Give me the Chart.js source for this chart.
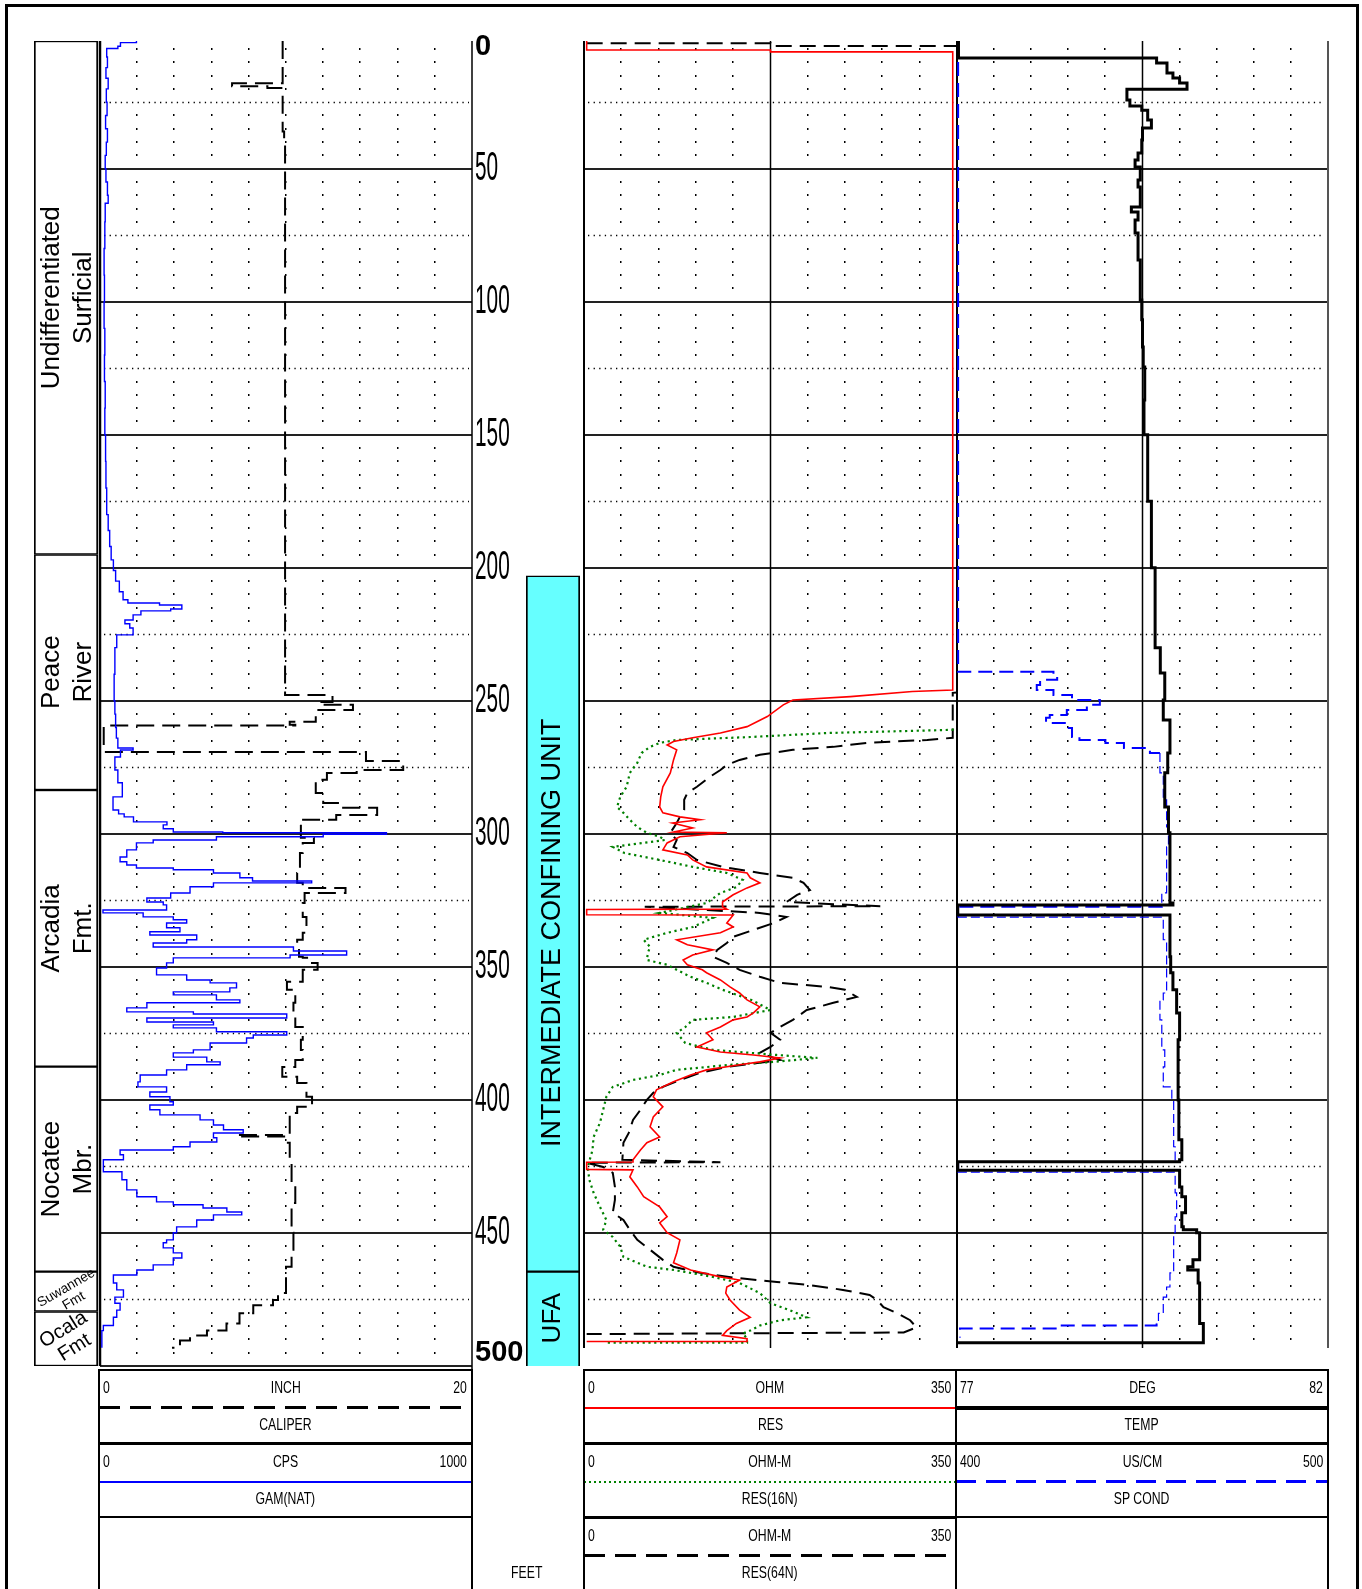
<!DOCTYPE html>
<html>
<head>
<meta charset="utf-8">
<title>Well log</title>
<script src="https://cdn.jsdelivr.net/npm/chart.js@4.4.1/dist/chart.umd.min.js"></script>
<style>
  html, body { margin: 0; padding: 0; background: #fff; }
  body { position: relative; width: 1362px; height: 1589px; overflow: hidden; font-family: "Liberation Sans", Arial, sans-serif; }
  canvas { position: absolute; }
  .frame { position: absolute; left: 5px; top: 4px; width: 1348px; height: 1620px; border: 3px solid #000; border-bottom: none; }
</style>
</head>
<body>
<div class="frame"></div>
<canvas id="litho" width="64" height="1345" style="left:34px;top:31px"></canvas>
<canvas id="trackGam" width="440" height="1345" style="left:90px;top:31px"></canvas>
<canvas id="hydro" width="54" height="1345" style="left:526px;top:31px"></canvas>
<canvas id="trackRes" width="393" height="1345" style="left:574px;top:31px"></canvas>
<canvas id="trackTemp" width="391" height="1345" style="left:947px;top:31px"></canvas>

<script>
// ---- depth frame (feet) ----
const DEPTH_MIN = 2;
const DEPTH_MAX = 500;
const depthTicks = [0, 50, 100, 150, 200, 250, 300, 350, 400, 450, 500];

// ---- formations ----
const formationNames = ['Undifferentiated\nSurficial', 'Peace\nRiver', 'Arcadia\nFmt.', 'Nocatee\nMbr.', 'Suwannee\nFmt', 'Ocala\nFmt'];
const formationTop = [2, 195, 283.5, 387.5, 464.5, 479.5];
const formationBase = [195, 283.5, 387.5, 464.5, 479.5, 500];

// ---- hydrogeologic units ----
const unitNames = ['INTERMEDIATE CONFINING UNIT', 'UFA'];
const unitTop = [203, 464.5];
const unitBase = [464.5, 501];

// ---- curves: [depth ft, value] ----
const gammaCps = [[2,98],[2.6,55],[4,48],[4.8,18],[8,20],[12,16],[16,22],[20,17],[25,19],[30,15],[35,20],[40,17],[45,14],[50,16],[55,20],[60,22],[63,14],[70,13],[80,11],[90,12],[100,11],[110,13],[120,12],[130,14],[140,13],[150,15],[160,16],[170,18],[180,22],[186,26],[192,30],[197,36],[201,42],[205,52],[209,62],[212,75],[213.2,160],[214,220],[215.5,190],[216.2,110],[217.7,89],[219.6,67],[221,80],[222.6,89],[225.2,45],[230,40],[240,38],[250,40],[255,42],[260,44],[264,48],[267.7,89],[268.5,55],[271.1,40],[276,48],[280.8,60],[286.1,35],[291,50],[292.5,65],[293.6,90],[295.5,180],[296.6,170],[298.1,197],[299.3,330],[299.6,770],[300.2,600],[301.1,313],[302.3,143],[303.4,98],[306,72],[308.7,54],[310.5,72],[311.7,98],[312.8,197],[313.5,305],[314.7,376],[316.5,410],[317.7,569],[318.4,305],[319.9,242],[322.2,190],[324.1,126],[325.6,170],[326.7,179],[328.6,8],[329.7,116],[331.2,197],[332.3,233],[333.5,179],[335.3,215],[336.8,134],[338,260],[339.8,233],[341,143],[342.5,520],[344,663],[345.5,511],[346.6,197],[348.5,179],[350.4,152],[353,233],[354.9,296],[356,367],[357.9,349],[359.4,197],[360.5,313],[362.4,376],[363.5,126],[365.4,72],[366.9,251],[367.7,502],[369.2,126],[370.7,305],[371.8,197],[372.9,313],[374.4,502],[375.6,412],[376.7,394],[378.6,296],[381.2,251],[382.3,197],[383.9,287],[385.7,323],[386.8,233],[388.7,179],[390.6,108],[393.2,102],[395.1,179],[397,134],[398.8,188],[400.7,197],[401.9,134],[403.7,161],[405.6,269],[407.5,305],[409.4,332],[411.2,385],[412.4,305],[414.2,314],[415.8,242],[417.6,197],[418.8,54],[420.6,63],[422.5,9],[425.2,9],[427,59],[430,72],[433.8,99],[436.4,152],[438.3,197],[439.4,277],[440.6,341],[442.1,381],[443.2,305],[445.1,260],[447.7,206],[449.9,197],[452.6,179],[453.7,170],[455.6,197],[457.5,220],[459.4,197],[462,143],[463.9,99],[465.8,36],[468.8,45],[471.4,63],[474.1,40],[476.4,54],[479,45],[481.7,36],[484.8,9],[486.7,5],[493.1,5]];

const caliperInch = [[2,9.82],[17.8,9.82],[17.9,7.1],[18.9,7.1],[19,9.0],[19.7,9.82],[36,9.9],[39,9.95],[246,9.95],[247.8,12.5],[250.4,11.8],[251.5,13.6],[253.4,11.6],[257.9,10.2],[259,10.5],[259.3,0.2],[268.4,0.2],[269.2,14.3],[272.6,16.3],[276,13.8],[277.1,12.2],[279.7,11.6],[284.6,12.0],[288.4,12.9],[290.2,14.9],[292.9,12.7],[294.7,10.75],[295.9,10.8],[301.5,11.5],[303.4,10.9],[307.2,10.75],[313.5,10.7],[314.7,10.6],[318.4,10.9],[320.3,13.2],[322.2,11.0],[326,10.9],[331.2,11.1],[337.2,10.9],[339.8,10.6],[342.9,10.7],[346.2,10.9],[346.6,11.3],[348.5,11.7],[351.1,10.9],[355.6,10.05],[358.6,10.5],[363.5,10.4],[368,10.5],[372.6,10.9],[377.4,10.8],[381.2,10.9],[385,10.5],[387.6,9.8],[391.3,10.6],[393.6,11.1],[398.8,11.4],[402.6,10.6],[404.9,10.2],[413.1,10.2],[413.2,7.35],[413.6,7.35],[413.7,10.1],[416.1,10.2],[423.6,10.3],[431.2,10.5],[438.7,10.3],[449.9,10.4],[456.3,10.3],[462.7,10.0],[472.6,9.57],[475.2,9.3],[477.2,8.24],[480.2,7.5],[484,6.8],[486.7,5.75],[488.5,4.84],[490.4,4.3],[493.1,3.87]];

const resOhm = [[2,2.5],[5.4,2.5],[5.4,175],[6.1,175],[6.1,346],[245.9,346],[246.5,308],[248.4,250],[249.7,196],[251.5,187],[255.9,172],[259.7,153],[262.1,128],[263.9,102],[265.3,84],[266.6,78],[268.4,87],[272.2,84],[277.1,81],[282.3,74],[286.1,72],[289.9,71],[292.1,74],[293.6,90],[294.7,109],[295.9,83],[297.8,102],[299.3,84],[299.6,134],[301.1,90],[303.4,78],[306,74],[307.9,97],[309.8,102],[312.4,115],[314.7,153],[316.5,156],[318.4,165],[320.3,153],[322.9,140],[325.6,130],[327.4,130],[328.3,134],[328.4,2.5],[330.4,2.5],[330.5,140],[333.5,134],[335,140],[337.2,128],[339.8,87],[341.7,97],[343.6,121],[345.5,102],[347.4,93],[349.2,97],[351.1,111],[352.2,115],[354.9,128],[357.5,137],[359.8,146],[362.4,153],[365,165],[367.3,159],[368.8,153],[369.9,140],[372.6,128],[374.8,115],[377.4,121],[380.1,106],[382,128],[383.1,159],[384.2,184],[385.7,165],[386.8,146],[388.7,115],[390.6,100],[393.2,84],[396.2,68],[398.8,65],[402.6,74],[406.4,65],[410.1,62],[413.9,71],[416.1,59],[418.8,53],[422.5,46],[423.3,46],[423.4,2.5],[426.1,2.5],[426.3,46],[428.9,43],[432.7,50],[436.4,56],[440.2,71],[443.9,78],[446.2,71],[449.9,78],[452.6,90],[457.5,87],[461.2,84],[463.9,100],[466.5,128],[467.7,146],[470.3,134],[472.6,133],[475.2,137],[479,146],[481.7,156],[484,143],[486.7,134],[488.5,130],[489.7,153],[490.8,153],[490.8,2.5]];

const res16nOhmM = [[2,360],[260.5,360],[260.9,345],[262.1,228],[263.6,156],[264.7,87],[265.8,71],[267.3,62],[269.6,54],[273.3,50],[277.1,43],[282.3,40],[286.1,34],[289.9,31],[292.1,37],[294.7,43],[297.4,50],[299.6,59],[301.1,71],[302.3,76],[304.9,27],[307.2,38],[309.8,71],[312.4,102],[314.7,134],[317.3,149],[320,143],[322.2,128],[326,115],[329.7,71],[331.6,121],[335,102],[337.2,78],[339.8,56],[342.5,62],[344.7,60],[347.4,59],[349.2,78],[351.1,87],[353.7,100],[356,115],[358.6,130],[362.4,157],[366.2,175],[368.8,140],[369.9,102],[372.6,95],[374.8,87],[378.6,95],[381.2,121],[383.1,181],[384.2,219],[385.7,178],[386.8,137],[388.7,87],[390.6,71],[392.5,46],[395.1,27],[398.8,21],[403.7,18],[408.6,15],[413.9,9],[418.8,8],[425.2,3.5],[430,5],[434.9,9],[440.2,15],[445.1,21],[448.8,18],[451.5,27],[455.2,34],[459,37],[462.7,59],[463.9,84],[466.5,121],[468.8,146],[472.6,165],[476.4,175],[479,193],[481.7,209],[482.8,184],[484.8,165],[486.7,156],[487.8,149],[489.7,153],[491.2,153],[491.2,21]];

const res64nOhmM = [[2.8,2.5],[2.8,175],[3.9,175],[3.9,360],[246.5,360],[247,346],[263.9,346],[264.7,322],[265.8,265],[267.3,234],[268.4,196],[270.3,165],[272.2,146],[274.1,134],[276,128],[278.6,118],[282.3,106],[284.6,97],[287.2,94],[291,94],[293.6,90],[295.9,87],[299.6,81],[302.3,87],[304.9,84],[307.2,97],[309.8,106],[312.4,130],[314.7,165],[316.5,196],[318.4,206],[321.1,212],[322.9,200],[325.6,190],[327.2,278],[327.4,57],[329.7,165],[331.2,190],[333.5,178],[336.1,159],[338.7,140],[341,134],[343.6,125],[346.2,121],[348.5,134],[351.1,146],[353.7,165],[356,184],[357.5,228],[358.6,245],[361.3,256],[363.5,234],[366.2,209],[369.9,196],[372.6,184],[374.8,175],[377.4,184],[380.1,175],[382.3,165],[385,184],[387.6,134],[389.8,109],[392.5,90],[395.1,74],[397.3,65],[400,59],[403.7,53],[407.5,46],[412.4,42],[416.1,37],[422.5,36],[423.4,128],[423.6,2.5],[425.2,18],[427.4,27],[432.7,29],[437.6,29],[442.4,27],[445.1,37],[448.8,43],[452.6,50],[456.3,62],[460.1,74],[462.7,84],[465,109],[466.9,143],[468.4,181],[469.6,212],[471.4,243],[473.3,268],[475.2,275],[477.9,281],[480.2,294],[482.8,306],[485.5,312],[487.4,300],[488,2.5]];

const tempDeg = [[2,77.02],[8.4,77.02],[8.4,79.69],[10.3,79.83],[14,79.91],[15.9,80.0],[17.8,80.1],[20,80.1],[20.1,79.29],[23.4,79.29],[24.2,79.33],[26.1,79.33],[26.4,79.49],[28,79.57],[31.7,79.62],[34.3,79.62],[34.7,79.5],[39.2,79.49],[44.1,79.44],[46.7,79.4],[49.4,79.47],[54.2,79.44],[56.9,79.47],[64.4,79.35],[66.3,79.44],[69.3,79.4],[74.2,79.44],[84.3,79.47],[99.3,79.49],[106.8,79.5],[117,79.51],[124.5,79.53],[136.9,79.52],[150,79.57],[175,79.62],[200,79.67],[230,79.74],[239.5,79.8],[249.7,79.78],[257.2,79.87],[269.6,79.84],[277,79.8],[289.9,79.85],[299.6,79.87],[326,79.91],[326.7,77.01],[330.4,77.01],[330.5,79.87],[346.2,79.88],[352.2,79.91],[358.6,79.96],[367.3,80.0],[377.4,79.98],[400,79.99],[415,80.03],[422.5,80.0],[423.2,77.01],[426.3,77.01],[426.4,80.0],[432.7,80.03],[436.4,80.08],[442.4,80.03],[447.7,80.05],[448.8,80.23],[449.9,80.27],[457.5,80.27],[460.1,80.18],[462.7,80.11],[463.9,80.25],[468.8,80.27],[475.2,80.27],[484,80.32],[487.8,80.32],[491.3,80.3],[491.3,77.01]];

const spCondUs = [[2,400.3],[239,400.3],[239.1,426],[240.9,427],[242.1,422.4],[244,421.5],[245.9,426],[247.8,431],[249.7,438.5],[251.5,435],[253.4,429.6],[255.3,425],[256.4,424],[258.3,429.6],[260.2,431],[263.6,433],[264.7,440],[265.8,445],[267.7,452],[269.6,454.7],[277.1,455.6],[287.2,456.5],[297.4,457],[304.9,456.5],[314.7,456.5],[322.2,455.2],[327.2,455.2],[327.4,400.3],[331.2,400.3],[331.3,455.6],[339.8,456.5],[352.2,456.5],[359.8,455.6],[362.4,454.7],[369.9,455.2],[381.2,456],[387.6,455.6],[395.1,457.9],[400,458.4],[417.6,458.8],[423.2,458.4],[423.3,400.3],[427,400.3],[427.1,458.8],[434.9,459.2],[443.9,458.8],[449.9,458.4],[457.5,458.4],[465,457.4],[470.3,456.5],[474.1,455.6],[480.2,454.3],[484,453.8],[484.8,427],[485.9,400.8],[489.3,400.8]];

const FONT = '"Liberation Sans", Arial, sans-serif';

function toPoints(curve) {
  return curve.map(p => ({ x: p[1], y: p[0] }));
}

// track grid: solid 50 ft lines, dotted 25 ft lines, dot columns every 5 ft
const logGrid = {
  id: 'logGrid',
  beforeDatasetsDraw(chart, args, o) {
    const { ctx, chartArea: a, scales: { y } } = chart;
    const w = a.right - a.left;
    ctx.save();
    ctx.fillStyle = '#000';
    for (let k = 1; k < 10; k++) {
      if (o.centerSolid && k === 5) continue;
      const x = Math.round(a.left + k * w / 10);
      for (let d = 5; d < o.endDepth; d += 5) {
        if (d % 25 === 0) continue;
        const py = Math.round(y.getPixelForValue(d));
        ctx.fillRect(x - 1, py - 1, 1.5, 2);
      }
    }
    ctx.strokeStyle = '#000';
    ctx.lineWidth = 1.3;
    ctx.setLineDash([1.3, 4.3]);
    for (let d = 25; d < 500; d += 50) {
      const py = Math.round(y.getPixelForValue(d)) + 0.5;
      ctx.beginPath();
      ctx.moveTo(a.left + 4, py);
      ctx.lineTo(a.right - 3, py);
      ctx.stroke();
    }
    ctx.setLineDash([]);
    ctx.strokeStyle = '#222';
    ctx.lineWidth = 2.2;
    const solid = o.bottomLine ? [50, 100, 150, 200, 250, 300, 350, 400, 450, 500] : [50, 100, 150, 200, 250, 300, 350, 400, 450];
    solid.forEach(d => {
      const py = Math.round(y.getPixelForValue(d));
      ctx.beginPath();
      ctx.moveTo(a.left, py);
      ctx.lineTo(a.right, py);
      ctx.stroke();
    });
    o.edges.forEach(e => {
      const x = a.left + e.f * w;
      ctx.strokeStyle = e.color || '#000';
      ctx.lineWidth = e.w;
      ctx.beginPath();
      ctx.moveTo(x, a.top);
      ctx.lineTo(x, y.getPixelForValue(e.end));
      ctx.stroke();
    });
    ctx.restore();
  }
};

// depth numbers to the right of the gamma track
const depthColumn = {
  id: 'depthColumn',
  afterDraw(chart) {
    const { ctx, chartArea: a, scales: { y } } = chart;
    const x = a.right + 3;
    ctx.save();
    ctx.fillStyle = '#000';
    ctx.textAlign = 'left';
    ctx.textBaseline = 'middle';
    depthTicks.forEach((d, i) => {
      if (i === 0 || i === depthTicks.length - 1) {
        ctx.font = 'bold 29px ' + FONT;
        ctx.fillText(String(d), x, i === 0 ? a.top + 6 : a.bottom - 13);
      } else {
        ctx.font = '40px ' + FONT;
        ctx.save();
        ctx.translate(x, y.getPixelForValue(d));
        ctx.scale(0.52, 1);
        ctx.fillText(String(d), 0, 0);
        ctx.restore();
      }
    });
    ctx.restore();
  }
};

// rotated names inside the formation / unit boxes
const boxLabels = {
  id: 'boxLabels',
  afterDatasetsDraw(chart, args, o) {
    const ctx = chart.ctx;
    chart.data.datasets.forEach((ds, i) => {
      const bar = chart.getDatasetMeta(i).data[0];
      const st = o.styles[i];
      const cx = bar.x + (st.dx || 0);
      const cy = (bar.y + bar.base) / 2 + (st.dy || 0);
      const lines = ds.label.split('\n');
      ctx.save();
      ctx.translate(cx, cy);
      ctx.rotate(st.angle * Math.PI / 180);
      ctx.font = st.size + 'px ' + FONT;
      ctx.fillStyle = '#000';
      ctx.textAlign = 'center';
      ctx.textBaseline = 'middle';
      lines.forEach((ln, j) => ctx.fillText(ln, 0, (j - (lines.length - 1) / 2) * st.lineHeight));
      ctx.restore();
    });
  }
};

const yDepth = { type: 'linear', min: DEPTH_MIN, max: DEPTH_MAX, reverse: true, display: false };
const pad = { left: 10, right: 10, top: 10, bottom: 10 };

function boxColumn(id, names, tops, bases, fill, styles) {
  return new Chart(document.getElementById(id), {
    type: 'bar',
    data: {
      labels: ['col'],
      datasets: names.map((n, i) => ({
        label: n,
        data: [[tops[i], bases[i]]],
        backgroundColor: fill,
        borderColor: '#000',
        borderWidth: { top: 1.5, bottom: 1.5, left: 2, right: 2 },
        borderSkipped: false,
        barPercentage: 1,
        categoryPercentage: 1,
        grouped: false
      }))
    },
    options: {
      responsive: false, animation: false, events: [], devicePixelRatio: 1,
      layout: { padding: { left: 0, right: 0, top: 10, bottom: 10 } },
      plugins: { legend: { display: false }, tooltip: { enabled: false }, boxLabels: { styles } },
      scales: { x: { display: false }, y: yDepth }
    },
    plugins: [boxLabels]
  });
}

function line(curve, color, width, dash, axis, stepped) {
  return {
    data: toPoints(curve),
    xAxisID: axis,
    showLine: true,
    borderColor: color,
    borderWidth: width,
    borderDash: dash,
    pointRadius: 0,
    stepped: stepped ? 'after' : false,
    tension: 0
  };
}

function track(id, padding, scalesX, datasets, grid, extra) {
  const scales = { y: yDepth };
  Object.keys(scalesX).forEach(k => {
    scales[k] = { type: 'linear', axis: 'x', min: scalesX[k][0], max: scalesX[k][1], display: false };
  });
  return new Chart(document.getElementById(id), {
    type: 'scatter',
    data: { datasets },
    options: {
      responsive: false, animation: false, events: [], devicePixelRatio: 1,
      layout: { padding },
      plugins: { legend: { display: false }, tooltip: { enabled: false }, logGrid: grid },
      scales
    },
    plugins: [logGrid].concat(extra || [])
  });
}

boxColumn('litho', formationNames, formationTop, formationBase, '#fff', [
  { size: 26, angle: -90, lineHeight: 32, dx: 2 },
  { size: 26, angle: -90, lineHeight: 32, dx: 2 },
  { size: 26, angle: -90, lineHeight: 32, dx: 2 },
  { size: 26, angle: -90, lineHeight: 32, dx: 2 },
  { size: 13.5, angle: -30, lineHeight: 15, dx: 4, dy: 3 },
  { size: 20, angle: -32, lineHeight: 21, dx: 3, dy: 0 }
]);

boxColumn('hydro', unitNames, unitTop, unitBase, '#66ffff', [
  { size: 27, angle: -90, lineHeight: 30, dx: 0, dy: 9 },
  { size: 26, angle: -90, lineHeight: 30, dx: 0, dy: -2 }
]);

track('trackGam', { left: 10, right: 58, top: 10, bottom: 10 },
  { x: [0, 1000], xCal: [0, 20] },
  [
    line(gammaCps, '#0000ff', 1.4, [], 'x', true),
    line(caliperInch, '#000', 2, [18, 8], 'xCal', true)
  ],
  { centerSolid: false, endDepth: 500, bottomLine: true,
    edges: [{ f: 0, w: 2.5, end: 500 }, { f: 1, w: 1.5, end: 501.5 }] },
  [depthColumn]);

track('trackRes', pad, { x: [0, 350] },
  [
    line(resOhm, '#ff0000', 1.6, [], 'x', false),
    line(res16nOhmM, '#008000', 2.2, [2.2, 3.6], 'x', false),
    line(res64nOhmM, '#000', 2, [16, 8], 'x', false)
  ],
  { centerSolid: true, endDepth: 493.2, bottomLine: false,
    edges: [{ f: 0, w: 2, end: 493.2 }, { f: 0.5, w: 1.5, end: 493.2 }] });

// conductivity trace is drawn thinner once it settles near the temperature curve
const spCondLine = line(spCondUs, '#0000ff', 2, [14, 7], 'xCond', true);
spCondLine.segment = {
  borderWidth: c => (c.p0.parsed.y > 268 && c.p1.parsed.x > 440 ? 1.2 : 2),
  borderDash: c => (c.p0.parsed.y > 268 && c.p1.parsed.x > 440 ? [9, 4] : [14, 7])
};

track('trackTemp', pad, { x: [77, 82], xCond: [400, 500] },
  [
    line(tempDeg, '#000', 3, [], 'x', true),
    spCondLine
  ],
  { centerSolid: true, endDepth: 493.2, bottomLine: false,
    edges: [{ f: 0, w: 2, end: 493.2 }, { f: 0.5, w: 1.5, end: 493.2 }, { f: 1, w: 2, end: 493.2, color: '#555' }] });

// ---- curve headers below the tracks ----
function addDiv(style, text) {
  const d = document.createElement('div');
  d.style.position = 'absolute';
  Object.assign(d.style, style);
  if (text) d.textContent = text;
  document.body.appendChild(d);
  return d;
}
function hLine(x1, x2, y, h, bg) {
  addDiv({ left: x1 + 'px', top: (y - h / 2) + 'px', width: (x2 - x1) + 'px', height: h + 'px', background: bg });
}
function vLine(x, y1, y2, w) {
  addDiv({ left: (x - w / 2) + 'px', top: y1 + 'px', width: w + 'px', height: (y2 - y1) + 'px', background: '#000' });
}
function label(text, x, y, align) {
  const d = addDiv({ top: (y - 10) + 'px', height: '20px', lineHeight: '20px', fontSize: '17px', whiteSpace: 'nowrap', color: '#000' });
  const s = document.createElement('span');
  s.textContent = text;
  s.style.display = 'inline-block';
  s.style.transform = 'scaleX(0.72)';
  if (align === 'left') {
    d.style.left = x + 'px';
    s.style.transformOrigin = 'left center';
  } else if (align === 'right') {
    d.style.right = (1362 - x) + 'px';
    s.style.transformOrigin = 'right center';
  } else {
    d.style.left = (x - 100) + 'px';
    d.style.width = '200px';
    d.style.textAlign = 'center';
  }
  d.appendChild(s);
}

const DASH_BLACK = 'repeating-linear-gradient(90deg, #000 0 21px, transparent 21px 31px)';
const DOT_GREEN = 'repeating-linear-gradient(90deg, #008000 0 2px, transparent 2px 5px)';
const DASH_BLUE = 'repeating-linear-gradient(90deg, #0000ff 0 20px, transparent 20px 30px)';

const headerBlocks = [
  { x1: 99, x2: 472, rows: [
    { lo: '0', unit: 'INCH', hi: '20', name: 'CALIPER', style: DASH_BLACK, h: 2.5, sep: 3 },
    { lo: '0', unit: 'CPS', hi: '1000', name: 'GAM(NAT)', style: '#0000ff', h: 2, sep: 1.5 }
  ] },
  { x1: 584, x2: 956, rows: [
    { lo: '0', unit: 'OHM', hi: '350', name: 'RES', style: '#ff0000', h: 2, sep: 3 },
    { lo: '0', unit: 'OHM-M', hi: '350', name: 'RES(16N)', style: DOT_GREEN, h: 2, sep: 3 },
    { lo: '0', unit: 'OHM-M', hi: '350', name: 'RES(64N)', style: DASH_BLACK, h: 2.5, sep: 0 }
  ] },
  { x1: 956, x2: 1328, rows: [
    { lo: '77', unit: 'DEG', hi: '82', name: 'TEMP', style: '#000', h: 4, sep: 3 },
    { lo: '400', unit: 'US/CM', hi: '500', name: 'SP COND', style: DASH_BLUE, h: 2.5, sep: 1.5 }
  ] }
];

headerBlocks.forEach(b => {
  hLine(b.x1, b.x2, 1370, 1.5, '#000');
  const cx = (b.x1 + b.x2) / 2;
  b.rows.forEach((r, i) => {
    const y0 = 1370 + i * 74;
    label(r.lo, b.x1 + 4, y0 + 18, 'left');
    label(r.unit, cx, y0 + 18, 'center');
    label(r.hi, b.x2 - 5, y0 + 18, 'right');
    hLine(b.x1, b.x2, y0 + 37.5, r.h, r.style);
    label(r.name, cx, y0 + 55, 'center');
    if (r.sep) hLine(b.x1, b.x2, y0 + 73, r.sep, '#000');
  });
});
[99, 472, 584, 956, 1328].forEach(x => vLine(x, 1369, 1589, 2));
label('FEET', 527, 1573, 'center');
</script>
</body>
</html>
